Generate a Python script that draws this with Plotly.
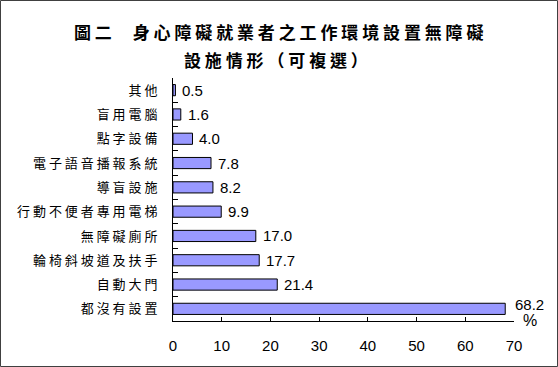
import plotly.graph_objects as go

categories = ["其他", "盲用電腦", "點字設備", "電子語音播報系統", "導盲設施",
              "行動不便者專用電梯", "無障礙廁所", "輪椅斜坡道及扶手", "自動大門", "都沒有設置"]
values = [0.5, 1.6, 4.0, 7.8, 8.2, 9.9, 17.0, 17.7, 21.4, 68.2]
value_labels = ["0.5", "1.6", "4.0", "7.8", "8.2", "9.9", "17.0", "17.7", "21.4", "68.2"]
x_ticks = [0, 10, 20, 30, 40, 50, 60, 70]

W, H = 558, 367
L, R, T, B = 173, 44, 78, 46
pw, ph = W - L - R, H - T - B

def spaced(s, sep=" "):
    return sep.join(list(s))

cat_labels = [spaced(c) for c in categories]

fig = go.Figure()
fig.add_trace(go.Bar(
    y=cat_labels, x=values, orientation="h",
    marker=dict(color="#9999FF", line=dict(color="#000000", width=1)),
    hoverinfo="skip",
))

annotations = []
for i, (c, v, t) in enumerate(zip(cat_labels, values, value_labels)):
    last = (v == max(values))
    annotations.append(dict(
        x=v, y=i, xref="x", yref="y", text=t, showarrow=False,
        xanchor="left", yanchor="middle",
        xshift=(8 if last else 5), yshift=(4 if last else 0),
        font=dict(family="Liberation Sans, Arial", size=15, color="#000000"),
    ))

title1 = spaced("圖二") + "　 " + spaced("身心障礙就業者之工作環境設置無障礙")
title2 = spaced("設施情形") + " （ " + spaced("可複選") + " ）"

annotations += [
    dict(text="<b>" + title1 + "</b>", x=(278 - L) / pw, y=1 + (T - 32) / ph, xref="paper", yref="paper",
         showarrow=False, xanchor="center", yanchor="middle",
         font=dict(family="Noto Sans CJK TC", size=17, color="#000000")),
    dict(text="<b>" + title2 + "</b>", x=(276 - L) / pw, y=1 + (T - 59) / ph, xref="paper", yref="paper",
         showarrow=False, xanchor="center", yanchor="middle",
         font=dict(family="Noto Sans CJK TC", size=17, color="#000000")),
    dict(text="%", x=(529.5 - L) / pw, y=-(320 - (T + ph)) / ph, xref="paper", yref="paper",
         showarrow=False, xanchor="center", yanchor="middle",
         font=dict(family="Liberation Sans, Arial", size=16, color="#000000")),
]

fig.update_layout(
    width=W, height=H, autosize=False,
    margin=dict(l=L, r=R, t=T, b=B, autoexpand=False),
    paper_bgcolor="#FFFFFF", plot_bgcolor="#FFFFFF",
    showlegend=False,
    bargap=0.54,
    font=dict(family="Noto Sans CJK TC", color="#000000"),
    annotations=annotations,
    shapes=[
        dict(type="rect", xref="paper", yref="paper",
             x0=(-L + 0.5) / pw, x1=(pw + R - 0.5) / pw,
             y0=(-B + 0.5) / ph, y1=1 + (T - 0.5) / ph,
             line=dict(color="#404040", width=1), fillcolor="rgba(0,0,0,0)", layer="above"),
    ],
)

fig.update_xaxes(
    range=[0, 70], tickvals=x_ticks, ticktext=[str(v) for v in x_ticks],
    showgrid=False, zeroline=False,
    showline=True, linecolor="#000000", linewidth=1,
    ticks="inside", ticklen=4, tickcolor="#000000",
    tickfont=dict(family="Liberation Sans, Arial", size=15, color="#000000"),
    ticklabelstandoff=11,
)
fig.update_yaxes(
    type="category",
    range=[len(categories) - 0.5, -0.5],
    showgrid=False, zeroline=False,
    showline=True, linecolor="#000000", linewidth=1,
    ticks="inside", ticklen=5, tickcolor="#000000", tickson="boundaries",
    tickfont=dict(family="Noto Sans CJK TC", size=13, color="#000000"),
    ticklabelstandoff=12,
)

fig.write_html(
    "out.html",
    config={"displayModeBar": False},
    post_script="document.body.style.margin='0';document.body.style.overflow='hidden';document.documentElement.style.overflow='hidden';",
)
